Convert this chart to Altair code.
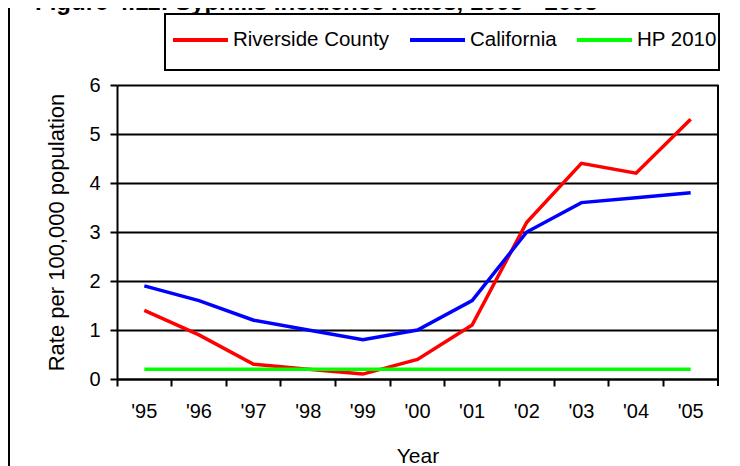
import altair as alt
import pandas as pd

# ---- data ----
years = ["'95", "'96", "'97", "'98", "'99", "'00", "'01", "'02", "'03", "'04", "'05"]
riverside = [1.4, 0.9, 0.3, 0.2, 0.1, 0.4, 1.1, 3.2, 4.4, 4.2, 5.3]
california = [1.9, 1.6, 1.2, 1.0, 0.8, 1.0, 1.6, 3.0, 3.6, 3.7, 3.8]
hp2010 = [0.2, 0.2, 0.2, 0.2, 0.2, 0.2, 0.2, 0.2, 0.2, 0.2, 0.2]
series_names = ["Riverside County", "California", "HP 2010"]
series_colors = ["#FF0000", "#0000FF", "#00FF00"]
y_ticks = [0, 1, 2, 3, 4, 5, 6]
title_text = "Figure 4.11: Syphilis Incidence Rates, 1995 - 2005"
x_title = "Year"
y_title = "Rate per 100,000 population"

rows = []
for name, vals in zip(series_names, [riverside, california, hp2010]):
    for yr, v in zip(years, vals):
        rows.append({"Year": yr, "Series": name, "Rate": v})
df = pd.DataFrame(rows)
deco = pd.DataFrame({"title": [title_text]})

W, H = 601, 294
FONT = "Liberation Sans"

lines = alt.Chart(df).mark_line(strokeWidth=3.5).encode(
    x=alt.X(
        "Year:N", sort=years,
        scale=alt.Scale(type="band", paddingInner=0, paddingOuter=0),
        axis=alt.Axis(title=x_title, bandPosition=0, labelAngle=0,
                      grid=False, labelPadding=15, titlePadding=24),
    ),
    y=alt.Y(
        "Rate:Q", scale=alt.Scale(domain=[0, 6], nice=False),
        axis=alt.Axis(title=y_title, values=y_ticks, grid=True, labelPadding=10,
                      titlePadding=20, titleFontSize=22),
    ),
    color=alt.Color(
        "Series:N", sort=series_names,
        scale=alt.Scale(domain=series_names, range=series_colors),
        legend=alt.Legend(orient="none", legendX=54, legendY=-74.5, direction="horizontal",
                          title=None, symbolType="stroke", symbolSize=3025,
                          symbolStrokeWidth=4, labelFontSize=20.5, labelFont=FONT,
                          labelColor="black", labelOffset=3, columnPadding=12,
                          padding=0, labelLimit=0),
    ),
)

box = alt.Chart(deco).mark_rect(fillOpacity=0, stroke="black", strokeWidth=2).encode(
    x=alt.value(48), x2=alt.value(602), y=alt.value(-71), y2=alt.value(-15)
)
left_frame = alt.Chart(deco).mark_rule(color="black", strokeWidth=2).encode(
    x=alt.value(-108), y=alt.value(-77), y2=alt.value(381)
)
right_border = alt.Chart(deco).mark_rule(color="black", strokeWidth=2).encode(
    x=alt.value(W), y=alt.value(0), y2=alt.value(H + 7)
)
title = alt.Chart(deco).mark_text(
    font=FONT, fontWeight="bold", fontSize=24, align="left", baseline="alphabetic", color="black"
).encode(x=alt.value(-82), y=alt.value(-75), text="title:N")

chart = alt.layer(box, lines, right_border, left_frame, title).properties(
    width=W, height=H,
    autosize=alt.AutoSizeParams(type="none"),
    padding={"left": 109, "top": 77, "right": 14, "bottom": 87},
).configure_view(stroke=None).configure_axis(
    domainColor="black", domainWidth=2, tickColor="black", tickWidth=2, tickSize=7,
    labelFont=FONT, labelFontSize=20, labelColor="black",
    titleFont=FONT, titleFontSize=21, titleFontWeight="normal", titleColor="black",
    gridColor="black", gridWidth=2, gridOpacity=1,
)

chart.save("out.html", embed_options={"renderer": "svg", "actions": False})
